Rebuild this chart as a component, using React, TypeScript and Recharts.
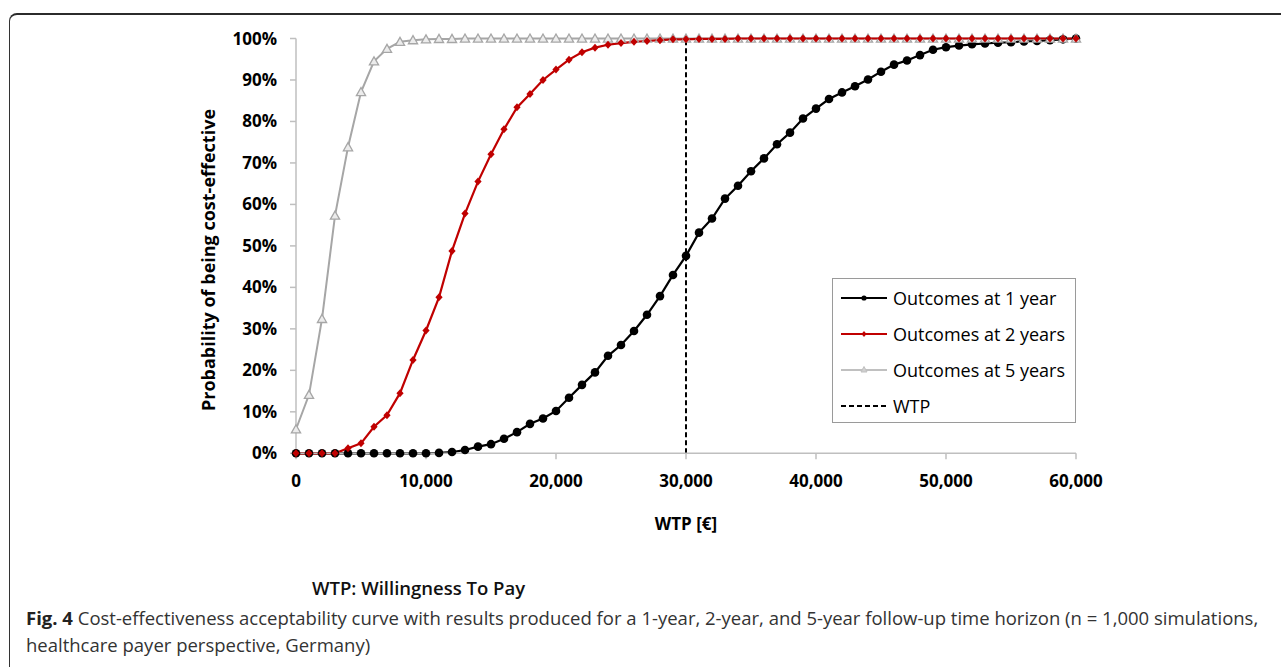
import React from 'react';
import { LineChart, Line, XAxis, YAxis, ReferenceLine } from 'recharts';

// willingness to pay, EUR
const wtp = [
  0, 1000, 2000, 3000, 4000, 5000, 6000, 7000, 8000, 9000, 10000,
  11000, 12000, 13000, 14000, 15000, 16000, 17000, 18000, 19000, 20000,
  21000, 22000, 23000, 24000, 25000, 26000, 27000, 28000, 29000, 30000,
  31000, 32000, 33000, 34000, 35000, 36000, 37000, 38000, 39000, 40000,
  41000, 42000, 43000, 44000, 45000, 46000, 47000, 48000, 49000, 50000,
  51000, 52000, 53000, 54000, 55000, 56000, 57000, 58000, 59000, 60000,
];

const year1 = [
  0, 0, 0, 0, 0, 0, 0, 0, 0, 0, 0,
  0.1, 0.3, 0.8, 1.6, 2.2, 3.5, 5.1, 7.1, 8.4, 10.2,
  13.4, 16.5, 19.5, 23.5, 26.1, 29.5, 33.4, 37.9, 43.0, 47.6,
  53.2, 56.6, 61.4, 64.5, 68.0, 71.1, 74.5, 77.3, 80.7, 83.1,
  85.4, 87.0, 88.5, 90.1, 92.0, 93.7, 94.7, 96.0, 97.3, 97.9,
  98.3, 98.6, 98.8, 99.0, 99.1, 99.3, 99.4, 99.6, 99.8, 100,
];

const year2 = [
  0, 0, 0, 0, 1.2, 2.4, 6.4, 9.2, 14.5, 22.5, 29.6,
  37.6, 48.8, 57.8, 65.5, 72.1, 78.1, 83.4, 86.6, 90.0, 92.5,
  94.9, 96.7, 97.8, 98.5, 98.9, 99.2, 99.4, 99.6, 99.8, 99.8,
  99.9, 99.9, 99.9, 100, 100, 100, 100, 100, 100, 100,
  100, 100, 100, 100, 100, 100, 100, 100, 100, 100,
  100, 100, 100, 100, 100, 100, 100, 100, 100, 100,
];

const year5 = [
  5.8, 14.1, 32.4, 57.3, 73.8, 87.1, 94.5, 97.5, 99.2, 99.6, 99.8,
  99.9, 99.9, 100, 100, 100, 100, 100, 100, 100, 100,
  100, 100, 100, 100, 100, 100, 100, 100, 100, 100,
  100, 100, 100, 100, 100, 100, 100, 100, 100, 100,
  100, 100, 100, 100, 100, 100, 100, 100, 100, 100,
  100, 100, 100, 100, 100, 100, 100, 100, 100, 100,
];

const xTicks = [0, 10000, 20000, 30000, 40000, 50000, 60000];
const yTicks = [0, 10, 20, 30, 40, 50, 60, 70, 80, 90, 100];
const threshold = 30000;

const data = wtp.map((w, i) => ({ wtp: w, y1: year1[i], y2: year2[i], y5: year5[i] }));

const BLACK = '#000000';
const RED = '#c00000';
const GREY = '#a6a6a6';
const AXIS = '#bfbfbf';
const FONT = '"Open Sans", "Noto Sans", sans-serif';

const CircleDot = (props: any) => {
  const { cx, cy, index } = props;
  if (cx == null || cy == null) return null;
  return <circle key={`c-${index}`} cx={cx} cy={cy} r={4.3} fill={BLACK} />;
};

const DiamondDot = (props: any) => {
  const { cx, cy, index } = props;
  if (cx == null || cy == null) return null;
  return (
    <polygon
      key={`d-${index}`}
      points={`${cx},${cy - 4} ${cx + 3.6},${cy} ${cx},${cy + 4} ${cx - 3.6},${cy}`}
      fill={RED}
    />
  );
};

const TriangleDot = (props: any) => {
  const { cx, cy, index } = props;
  if (cx == null || cy == null) return null;
  return (
    <polygon
      key={`t-${index}`}
      points={`${cx},${cy - 4.5} ${cx + 4.6},${cy + 3.6} ${cx - 4.6},${cy + 3.6}`}
      fill="#ececec"
      stroke={GREY}
      strokeWidth={1.3}
    />
  );
};

const legendItems = [
  { label: 'Outcomes at 1 year', color: BLACK, marker: 'circle' },
  { label: 'Outcomes at 2 years', color: RED, marker: 'diamond' },
  { label: 'Outcomes at 5 years', color: '#c0c0c0', marker: 'triangle' },
  { label: 'WTP', color: BLACK, marker: 'dash' },
];

const LegendBox = () => (
  <div
    style={{
      position: 'absolute',
      left: 832,
      top: 278,
      width: 244,
      height: 145,
      boxSizing: 'border-box',
      border: '1.5px solid #9a9a9a',
      paddingTop: 1,
      fontFamily: FONT,
    }}
  >
    {legendItems.map((item) => (
      <div key={item.label} style={{ height: 36, display: 'flex', alignItems: 'center' }}>
        <svg width={60} height={12} style={{ flex: 'none' }}>
          <line
            x1={8}
            x2={54}
            y1={6}
            y2={6}
            stroke={item.color}
            strokeWidth={2}
            strokeDasharray={item.marker === 'dash' ? '5 3' : undefined}
          />
          {item.marker === 'circle' && <circle cx={31} cy={6} r={2.6} fill={item.color} />}
          {item.marker === 'diamond' && (
            <polygon points="31,3 33.5,6 31,9 28.5,6" fill={item.color} />
          )}
          {item.marker === 'triangle' && (
            <polygon points="31,2.5 34,8 28,8" fill="#d0d0d0" stroke={item.color} />
          )}
        </svg>
        <span style={{ fontSize: 18, color: '#000', whiteSpace: 'nowrap' }}>{item.label}</span>
      </div>
    ))}
  </div>
);

export default function App() {
  return (
    <div
      style={{
        position: 'absolute',
        left: 0,
        top: 0,
        width: 1281,
        height: 667,
        overflow: 'hidden',
        background: '#fff',
        fontFamily: FONT,
      }}
    >
      <div
        style={{
          position: 'absolute',
          left: 9,
          top: 13,
          width: 1300,
          height: 700,
          boxSizing: 'border-box',
          borderTop: '2px solid #2b2b2b',
          borderLeft: '1.5px solid #333',
          borderTopLeftRadius: 8,
        }}
      />

      <div style={{ position: 'absolute', left: 0, top: 0 }}>
        <LineChart
          width={1281}
          height={667}
          data={data}
          margin={{ top: 38.5, right: 205, bottom: 153.7, left: 236 }}
        >
          <XAxis
            dataKey="wtp"
            type="number"
            domain={[0, 60000]}
            ticks={xTicks}
            tickFormatter={(v: number) => v.toLocaleString('en-US')}
            axisLine={{ stroke: AXIS, strokeWidth: 1.5 }}
            tickLine={{ stroke: AXIS, strokeWidth: 1.5 }}
            tickSize={6}
            tickMargin={16}
            height={60}
            tick={{ fill: '#000', fontSize: 17, fontWeight: 700, fontFamily: FONT }}
          />
          <YAxis
            type="number"
            domain={[0, 100]}
            ticks={yTicks}
            tickFormatter={(v: number) => `${v}%`}
            axisLine={{ stroke: AXIS, strokeWidth: 1.5 }}
            tickLine={{ stroke: AXIS, strokeWidth: 1.5 }}
            tickSize={6}
            tickMargin={13}
            width={60}
            tick={{ fill: '#000', fontSize: 17, fontWeight: 700, fontFamily: FONT }}
          />
          <ReferenceLine x={threshold} stroke={BLACK} strokeWidth={2} strokeDasharray="5 3" />
          <Line
            dataKey="y1"
            stroke={BLACK}
            strokeWidth={2.2}
            dot={CircleDot}
            activeDot={false}
            isAnimationActive={false}
          />
          <Line
            dataKey="y5"
            stroke={GREY}
            strokeWidth={2}
            dot={TriangleDot}
            activeDot={false}
            isAnimationActive={false}
          />
          <Line
            dataKey="y2"
            stroke={RED}
            strokeWidth={2.2}
            dot={DiamondDot}
            activeDot={false}
            isAnimationActive={false}
          />
        </LineChart>
      </div>

      <LegendBox />

      <div
        style={{
          position: 'absolute',
          left: 208,
          top: 260,
          transform: 'translate(-50%, -50%) rotate(-90deg)',
          whiteSpace: 'nowrap',
          fontSize: 18,
          fontWeight: 700,
          color: '#000',
        }}
      >
        Probability of being cost-effective
      </div>

      <div
        style={{
          position: 'absolute',
          left: 686,
          top: 523,
          transform: 'translate(-50%, -50%)',
          whiteSpace: 'nowrap',
          fontSize: 17,
          fontWeight: 700,
          color: '#000',
        }}
      >
        WTP [€]
      </div>

      <div
        style={{
          position: 'absolute',
          left: 312,
          top: 575,
          whiteSpace: 'nowrap',
          fontSize: 18.5,
          fontWeight: 600,
          color: '#111',
        }}
      >
        WTP: Willingness To Pay
      </div>

      <div
        style={{
          position: 'absolute',
          left: 26,
          top: 604,
          fontSize: 18.5,
          lineHeight: '27px',
          color: '#333',
          whiteSpace: 'nowrap',
        }}
      >
        <div>
          <b style={{ color: '#222' }}>Fig. 4</b> Cost-effectiveness acceptability curve with results produced
          for a 1-year, 2-year, and 5-year follow-up time horizon (n = 1,000 simulations,
        </div>
        <div>healthcare payer perspective, Germany)</div>
      </div>
    </div>
  );
}
